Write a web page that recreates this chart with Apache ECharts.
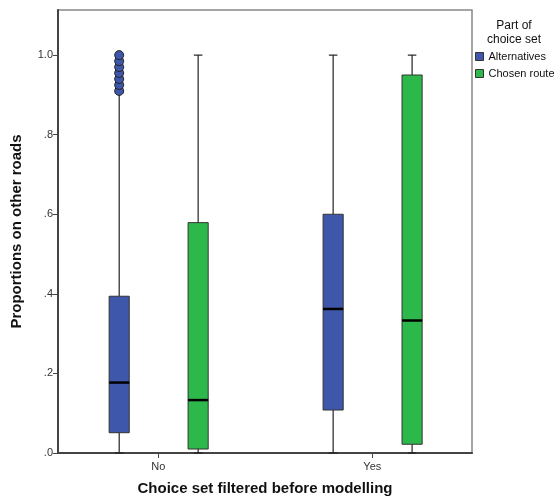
<!DOCTYPE html>
<html>
<head>
<meta charset="utf-8">
<script src="https://cdn.jsdelivr.net/npm/echarts@6/dist/echarts.min.js"></script>
<style>html,body{margin:0;padding:0;background:#fff}#c{width:559px;height:501px}</style>
</head>
<body>
<div id="c"></div>
<script>
// Data
var categories = ['No', 'Yes'];
var seriesNames = ['Alternatives', 'Chosen route'];
// [min, Q1, median, Q3, max] per category
var alternativesStats = [[0, 0.051, 0.177, 0.394, 0.905], [0, 0.108, 0.362, 0.600, 1.0]];
var chosenStats = [[0, 0.010, 0.133, 0.579, 1.0], [0, 0.022, 0.333, 0.950, 1.0]];
var alternativesOutliersNo = [0.91, 0.925, 0.94, 0.955, 0.97, 0.985, 1.0];
var yTicks = [0, 0.2, 0.4, 0.6, 0.8, 1.0];
var yTickLabels = ['.0', '.2', '.4', '.6', '.8', '1.0'];

var colors = ['#3F57AA', '#2DB84B'];
var offsets = [-0.183, 0.186];
var halfW = 0.047;
var capHalf = 0.02;

function boxData(stats) {
  return stats.map(function (s, i) { return [i].concat(s); });
}

function makeRender(offset, color) {
  return function (params, api) {
    var xi = api.value(0) + offset;
    var mn = api.value(1), q1 = api.value(2), md = api.value(3), q3 = api.value(4), mx = api.value(5);
    var pL = api.coord([xi - halfW, 0])[0];
    var pR = api.coord([xi + halfW, 0])[0];
    var pC = api.coord([xi, 0])[0];
    var cL = api.coord([xi - capHalf, 0])[0];
    var cR = api.coord([xi + capHalf, 0])[0];
    var yMin = api.coord([xi, mn])[1];
    var yQ1 = api.coord([xi, q1])[1];
    var yMd = api.coord([xi, md])[1];
    var yQ3 = api.coord([xi, q3])[1];
    var yMax = api.coord([xi, mx])[1];
    var line = {stroke: '#222', lineWidth: 1.2};
    return {
      type: 'group',
      children: [
        {type: 'line', shape: {x1: pC, y1: yMax, x2: pC, y2: yQ3}, style: line},
        {type: 'line', shape: {x1: pC, y1: yQ1, x2: pC, y2: yMin}, style: line},
        {type: 'line', shape: {x1: cL, y1: yMax, x2: cR, y2: yMax}, style: line},
        {type: 'line', shape: {x1: cL, y1: yMin, x2: cR, y2: yMin}, style: line},
        {type: 'rect', shape: {x: pL, y: yQ3, width: pR - pL, height: yQ1 - yQ3},
          style: {fill: color, stroke: '#333', lineWidth: 1}},
        {type: 'line', shape: {x1: pL, y1: yMd, x2: pR, y2: yMd}, style: {stroke: '#000', lineWidth: 2.5}}
      ]
    };
  };
}

var chart = echarts.init(document.getElementById('c'), null, {renderer: 'canvas'});
var option = {
  animation: false,
  backgroundColor: '#fff',
  textStyle: {fontFamily: 'Liberation Sans, Arial, sans-serif'},
  grid: {left: 58, right: 87, top: 10, bottom: 48, show: true, borderColor: '#888', borderWidth: 1.5},
  legend: {
    data: seriesNames.map(function (n, i) {
      return {name: n, icon: 'rect', itemStyle: {color: colors[i], borderColor: '#333', borderWidth: 1}};
    }),
    orient: 'vertical', left: 475, top: 51,
    itemWidth: 8, itemHeight: 8, itemGap: 6,
    textStyle: {fontSize: 11, color: '#111', padding: [0, 0, 0, 0]},
    padding: 0
  },
  graphic: [
    {type: 'text', x: 514, y: 19, style: {text: 'Part of\nchoice set', fill: '#111',
      align: 'center', textAlign: 'center', lineHeight: 14, font: '12px "Liberation Sans", Arial, sans-serif'}}
  ],
  xAxis: {
    type: 'value', min: -0.469, max: 1.466,
    name: 'Choice set filtered before modelling', nameLocation: 'middle', nameGap: 28,
    nameTextStyle: {fontSize: 15, fontWeight: 'bold', color: '#111'},
    axisLine: {show: true, onZero: false, lineStyle: {color: '#444', width: 2}},
    axisTick: {show: true, customValues: [0, 1], length: 5, inside: false, lineStyle: {color: '#444'}},
    axisLabel: {customValues: [0, 1], formatter: function (v) { return categories[Math.round(v)]; },
      fontSize: 11, color: '#333', margin: 8},
    splitLine: {show: false}
  },
  yAxis: {
    type: 'value', min: 0, max: 1.1134,
    name: 'Proportions on other roads', nameLocation: 'middle', nameGap: 34,
    nameTextStyle: {fontSize: 15, fontWeight: 'bold', color: '#111'},
    axisLine: {show: true, onZero: false, lineStyle: {color: '#444', width: 2}},
    axisTick: {show: true, customValues: yTicks, length: 5, lineStyle: {color: '#444'}},
    axisLabel: {customValues: yTicks, formatter: function (v) {
      var i = yTicks.indexOf(v); return i >= 0 ? yTickLabels[i] : ''; }, fontSize: 11, color: '#333', margin: 5},
    splitLine: {show: false}
  },
  series: [
    {name: seriesNames[0], type: 'custom', itemStyle: {color: colors[0]},
      renderItem: makeRender(offsets[0], colors[0]), data: boxData(alternativesStats), z: 3},
    {name: seriesNames[1], type: 'custom', itemStyle: {color: colors[1]},
      renderItem: makeRender(offsets[1], colors[1]), data: boxData(chosenStats), z: 3},
    {name: 'outliers', type: 'scatter', symbol: 'circle', symbolSize: 9,
      itemStyle: {color: colors[0], borderColor: '#222', borderWidth: 1, opacity: 1},
      data: alternativesOutliersNo.map(function (v) { return [0 + offsets[0], v]; }), z: 4}
  ]
};
chart.setOption(option);
</script>
</body>
</html>
